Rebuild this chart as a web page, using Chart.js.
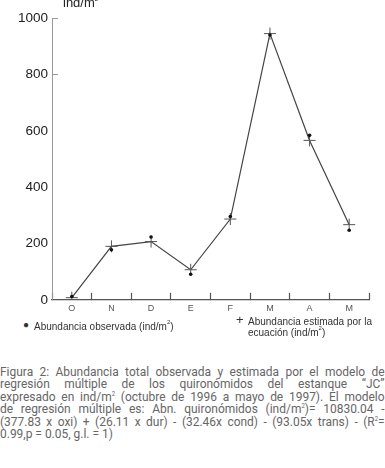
<!DOCTYPE html>
<html>
<head>
<meta charset="utf-8">
<script src="https://cdn.jsdelivr.net/npm/chart.js@4.4.1/dist/chart.umd.min.js"></script>
<style>
  html, body { margin: 0; padding: 0; background: #fff; }
  body { width: 385px; height: 468px; position: relative; overflow: hidden; font-family: "Liberation Sans", Arial, sans-serif; }
  #wrap { position: absolute; left: 0; top: 0; width: 385px; height: 318px; }
  .unit { position: absolute; left: 63px; top: -5px; font-size: 13px; color: #222; }
  .unit sup, .leg sup { font-size: 6px; vertical-align: 6px; line-height: 0; }
  .leg { position: absolute; font-size: 10px; color: #333; line-height: 11px; }
  .caption { position: absolute; left: 0; top: 366px; width: 418px; transform: scaleX(0.92); transform-origin: 0 0;
             font-family: Roboto, sans-serif; font-size: 13px; line-height: 12.4px; color: #666; }
  .caption div { position: absolute; left: 0; width: 418px; white-space: normal; text-align: justify; text-align-last: justify; }
  .caption div.last { text-align-last: left; }
  .caption sup { font-size: 6.5px; vertical-align: 5px; line-height: 0; }
</style>
</head>
<body>
<div id="wrap"><canvas id="chart" width="385" height="318"></canvas></div>
<div class="unit">ind/m<sup>2</sup></div>
<div class="leg" style="left:23px; top:319px;">&#9679;</div>
<div class="leg" style="left:34px; top:321px;">Abundancia observada (ind/m<sup>2</sup>)</div>
<div class="leg" style="left:236px; top:314px; font-size:13px;">+</div>
<div class="leg" style="left:248px; top:316px;">Abundancia estimada por la<br>ecuación (ind/m<sup>2</sup>)</div>
<div class="caption">
  <div style="top:0px;">Figura 2: Abundancia total observada y estimada por el modelo de</div>
  <div style="top:12.4px;">regresión múltiple de los quironómidos del estanque “JC”</div>
  <div style="top:24.8px;">expresado en ind/m<sup>2</sup> (octubre de 1996 a mayo de 1997). El modelo</div>
  <div style="top:37.2px;">de regresión múltiple es: Abn. quironómidos (ind/m<sup>2</sup>)= 10830.04 -</div>
  <div style="top:49.6px;">(377.83 x oxi) + (26.11 x dur) - (32.46x cond) - (93.05x trans) - (R<sup>2</sup>=</div>
  <div class="last" style="top:62px;">0.99,p = 0.05, g.l. = 1)</div>
</div>
<script>
  // months, October 1996 to May 1997
  const months = ['O', 'N', 'D', 'E', 'F', 'M', 'A', 'M'];
  // observed abundance (dots)
  const observed = [12, 178, 223, 91, 296, 940, 584, 247];
  // abundance estimated by the regression equation (crosses + line)
  const estimated = [8, 190, 207, 107, 287, 945, 566, 267];
  const yTicks = [0, 200, 400, 600, 800, 1000];

  new Chart(document.getElementById('chart'), {
    type: 'line',
    data: {
      labels: months,
      datasets: [
        {
          label: 'Abundancia observada',
          data: observed,
          showLine: false,
          pointStyle: 'circle',
          pointRadius: 1.8,
          pointBackgroundColor: '#111',
          pointBorderColor: '#111',
          pointBorderWidth: 0,
          order: 0
        },
        {
          label: 'Abundancia estimada por la ecuación',
          data: estimated,
          borderColor: '#444',
          borderWidth: 1.2,
          tension: 0,
          pointStyle: 'cross',
          pointRadius: 6,
          pointBorderColor: '#555',
          pointBorderWidth: 1,
          order: 1
        }
      ]
    },
    options: {
      responsive: false,
      animation: false,
      devicePixelRatio: 1,
      layout: { padding: { left: 0, right: 16, top: 18, bottom: 0 } },
      plugins: { legend: { display: false }, tooltip: { enabled: false } },
      scales: {
        x: {
          offset: true,
          grid: {
            offset: true,
            drawOnChartArea: false,
            drawTicks: true,
            tickLength: -7,
            tickColor: '#555',
            tickWidth: 1.2
          },
          border: { display: true, color: '#555', width: 1.2 },
          ticks: {
            padding: 10,
            color: '#555',
            font: { family: 'Liberation Sans', size: 9 },
            maxRotation: 0,
            autoSkip: false
          },
          afterFit: function(scale) { scale.height = 13; }
        },
        y: {
          min: 0,
          max: 1000,
          afterBuildTicks: function(scale) { scale.ticks = yTicks.map(v => ({ value: v })); },
          grid: {
            drawOnChartArea: false,
            drawTicks: true,
            tickLength: -6,
            tickColor: function(ctx) { return ctx.tick && ctx.tick.value >= 800 ? '#999' : 'rgba(0,0,0,0)'; }
          },
          border: { display: true, color: '#999', width: 1 },
          ticks: {
            padding: 10,
            color: '#222',
            font: { family: 'Liberation Sans', size: 13.5 },
            callback: function(value) { return String(value); }
          },
          afterFit: function(scale) { scale.width = 52; }
        }
      }
    }
  });
</script>
</body>
</html>
